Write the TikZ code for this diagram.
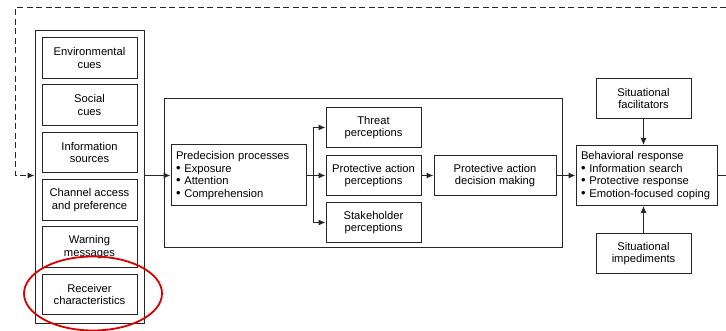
\documentclass[tikz,border=0pt]{standalone}
\usepackage{fontspec}
\setmainfont{Liberation Sans}
\usetikzlibrary{arrows.meta,positioning}

\newcommand{\blt}{{\fontsize{13}{12.7}\selectfont\textbullet}\ }

\begin{document}
\begin{tikzpicture}[x=1pt,y=-1pt,line width=1pt,draw=black!85,>={Latex[length=7pt,width=6pt]},
	box/.style={draw,inner sep=0pt,align=center,minimum width=95pt,minimum height=40.5pt,
		font=\fontsize{11.2}{12.7}\selectfont},
	listbox/.style={draw,inner sep=0pt,inner xsep=5pt,align=left,
		font=\fontsize{11.2}{12.7}\selectfont},
	frame/.style={draw,inner sep=0pt}]
	\useasboundingbox (0,0) rectangle (726,331);

	% loop back, cut off at the right
	\coordinate(topL) at (15,8);
	\coordinate(topR) at (726,8);
	\coordinate(cropR) at (726,175.5);

	% left column
	\node[frame,minimum width=109pt,minimum height=292pt] (leftframe) at (89.5,177) {};
	\node[box] (env) at (89.5,58) {Environmental\\cues};
	\node[box] (soc) at (89.5,105) {Social\\cues};
	\node[box] (info) at (89.5,152.5) {Information\\sources};
	\node[box] (chan) at (89.5,200) {Channel access\\and preference};
	\node[box] (warn) at (89.5,247) {Warning\\messages};
	\node[box] (recv) at (89.5,294.5) {Receiver\\characteristics};

	% middle block
	\node[frame,minimum width=398pt,minimum height=149pt] (midframe) at (363,173.5) {};
	\node[listbox,text width=125pt,minimum height=61pt] (pre) at (238.5,175.5)
		{Predecision processes\\\blt Exposure\\\blt Attention\\\blt Comprehension};
	\node[box] (threat) at (373.5,127.5) {Threat\\perceptions};
	\node[box] (pap) at (373.5,175.5) {Protective action\\perceptions};
	\node[box] (stake) at (373.5,222.5) {Stakeholder\\perceptions};
	\node[box,minimum width=122pt] (padm) at (495,175.5) {Protective action\\decision making};
	\coordinate(split) at (313,175.5);

	% right column
	\node[listbox,text width=131pt,minimum height=60pt] (beh) at (646.5,175.5)
		{Behavioral response\\\blt Information search\\\blt Protective response\\\blt Emotion-focused coping};
	\node[box] (facil) at (643.5,98.5) {Situational\\facilitators};
	\node[box] (imped) at (643.5,253.5) {Situational\\impediments};

	\draw[->] (leftframe.east |- pre) -- (pre.west);
	\draw (pre.east) -- (split);
	\draw[->] (split) |- (threat.west);
	\draw[->] (split) -- (pap.west);
	\draw[->] (split) |- (stake.west);
	\draw[->] (pap.east) -- (padm.west);
	\draw[->] (padm.east) -- (beh.west);
	\draw[->] (facil.south) -- (facil.south |- beh.north);
	\draw[->] (imped.north) -- (imped.north |- beh.south);
	\draw (beh.east) -- (cropR);
	\draw[dash pattern=on 6pt off 3.5pt,->] (topR) -- (topL) |- (leftframe.west |- pre);

	% highlight
	\draw[red!85!black,line width=1.8pt] (93,293.5) ellipse [x radius=69pt,y radius=37pt];
\end{tikzpicture}
\end{document}
